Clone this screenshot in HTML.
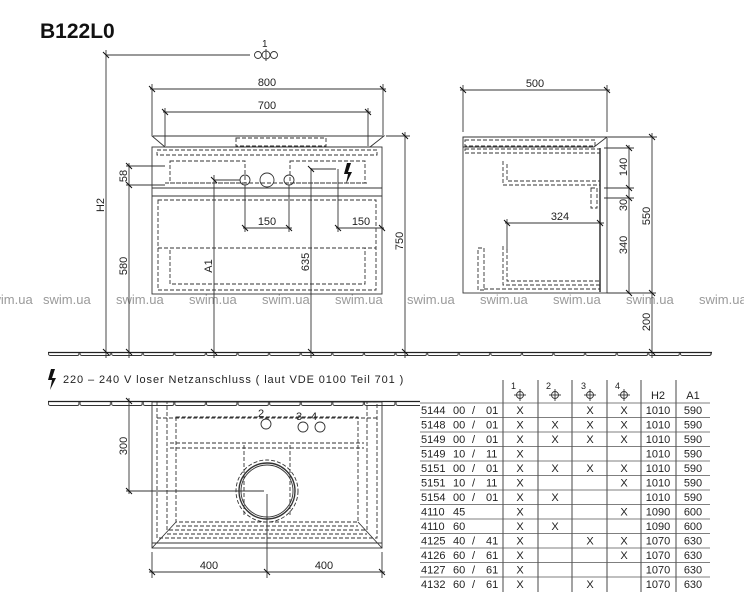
<!DOCTYPE html>
<html><head><meta charset="utf-8"><style>
html,body{margin:0;padding:0;background:#fff;}
svg{display:block;font-family:"Liberation Sans",sans-serif;}
.t{font-size:11px;fill:#222;}
.wm{font-size:13px;fill:#9a9a9a;}
</style></head><body>
<svg width="744" height="600" viewBox="0 0 744 600" xmlns="http://www.w3.org/2000/svg">
<defs>
<pattern id="tile" x="48" y="0" width="31.6" height="10" patternUnits="userSpaceOnUse">
<rect x="0.5" y="0.5" width="30.4" height="5" rx="1.5" fill="#fff" stroke="#333" stroke-width="0.9"/>
</pattern>
</defs>
<text x="40" y="38" font-size="21" font-weight="bold" fill="#111">B122L0</text>

<g class="wm">
<text x="-15" y="304">swim.ua</text><text x="43" y="304">swim.ua</text><text x="116" y="304">swim.ua</text>
<text x="189" y="304">swim.ua</text><text x="262" y="304">swim.ua</text><text x="335" y="304">swim.ua</text>
<text x="407" y="304">swim.ua</text><text x="480" y="304">swim.ua</text><text x="553" y="304">swim.ua</text>
<text x="626" y="304">swim.ua</text><text x="699" y="304">swim.ua</text>
</g>

<rect x="48" y="352" width="664" height="6" fill="url(#tile)"/>
<line x1="48" y1="352.5" x2="712" y2="352.5" stroke="#222" stroke-width="1.2"/>
<rect x="48" y="401" width="372" height="6" fill="url(#tile)"/>
<line x1="48" y1="401.5" x2="420" y2="401.5" stroke="#222" stroke-width="1.2"/>

<g stroke="#333" stroke-width="0.9" fill="none">
<polygon points="152,136 384,136 370,147 165,147"/>
<rect x="152" y="147" width="230" height="147"/>
<line x1="152" y1="196" x2="382" y2="196"/>
<line x1="152" y1="188" x2="382" y2="188"/>
<g stroke-dasharray="4,2">
<rect x="157" y="150" width="220" height="5"/>
<rect x="170" y="161" width="75" height="22"/>
<rect x="290" y="161" width="75" height="22"/>
<line x1="165" y1="183" x2="368" y2="183"/>
<rect x="158" y="200" width="218" height="90"/>
<line x1="158" y1="248" x2="376" y2="248"/>
<rect x="170" y="248" width="195" height="36"/>
<rect x="236" y="138" width="90" height="8"/>
</g>
<circle cx="245" cy="180" r="5"/><circle cx="267" cy="180" r="7"/><circle cx="289" cy="180" r="5"/>
<line x1="106" y1="55" x2="250" y2="55"/>
<line x1="106" y1="50" x2="106" y2="358"/>
<line x1="152" y1="84" x2="152" y2="135"/><line x1="383" y1="84" x2="383" y2="135"/>
<line x1="150" y1="89" x2="386" y2="89"/>
<line x1="165" y1="108" x2="165" y2="146"/><line x1="368" y1="108" x2="368" y2="146"/>
<line x1="163" y1="112" x2="371" y2="112"/>
<line x1="386" y1="136" x2="410" y2="136"/>
<line x1="405" y1="132" x2="405" y2="358"/>
<line x1="129" y1="163" x2="129" y2="358"/>
<line x1="126" y1="166" x2="165" y2="166"/>
<line x1="126" y1="185" x2="165" y2="185"/>
<line x1="214" y1="175" x2="214" y2="358"/>
<line x1="214" y1="180" x2="240" y2="180"/>
<line x1="311" y1="168" x2="311" y2="358"/>
<line x1="311" y1="169" x2="336" y2="169"/>
<line x1="245" y1="185" x2="245" y2="232"/><line x1="289" y1="185" x2="289" y2="232"/>
<line x1="243" y1="228" x2="292" y2="228"/>
<line x1="338" y1="169" x2="338" y2="232"/>
<line x1="336" y1="228" x2="384" y2="228"/>
<circle cx="266" cy="55" r="4"/><circle cx="258" cy="55" r="3.5"/><circle cx="274" cy="55" r="3.5"/>
<line x1="266" y1="49" x2="266" y2="61"/>

<rect x="463" y="137" width="144" height="156"/>
<polygon points="463,137 607,137 594,147 463,147"/>
<line x1="600" y1="148" x2="600" y2="292" stroke-width="1.5"/>
<g stroke-dasharray="4,2">
<rect x="465" y="140" width="130" height="6"/>
<rect x="465" y="149" width="135" height="4"/>
<polyline points="503,161 503,185 600,185"/>
<polyline points="507,164 507,181 600,181"/>
<rect x="591" y="188" width="6" height="20"/>
<polyline points="503,246 503,285 600,285"/>
<polyline points="507,249 507,281 600,281"/>
<rect x="478" y="248" width="6" height="42"/>
<line x1="484" y1="289" x2="600" y2="289"/>
</g>
<line x1="463" y1="85" x2="463" y2="132"/><line x1="607" y1="85" x2="607" y2="132"/>
<line x1="460" y1="90" x2="610" y2="90"/>
<line x1="608" y1="137" x2="657" y2="137"/>
<line x1="652" y1="133" x2="652" y2="358"/>
<line x1="604" y1="148" x2="634" y2="148"/>
<line x1="604" y1="188" x2="634" y2="188"/>
<line x1="604" y1="198" x2="634" y2="198"/>
<line x1="629" y1="145" x2="629" y2="294"/>
<line x1="607" y1="293" x2="656" y2="293"/>
<line x1="505" y1="223" x2="604" y2="223"/>
<line x1="507" y1="219" x2="507" y2="250"/>

<rect x="152" y="402" width="230" height="146"/>
<line x1="152" y1="543" x2="382" y2="543"/>
<g stroke-dasharray="4,2">
<rect x="157" y="402" width="220" height="136"/>
<rect x="167" y="402" width="200" height="128"/>
<rect x="176" y="417" width="182" height="105"/>
<line x1="157" y1="418" x2="377" y2="418"/>
<line x1="170" y1="443" x2="364" y2="443"/>
<line x1="170" y1="448" x2="364" y2="448"/>
<line x1="176" y1="526" x2="358" y2="526"/>
<line x1="167" y1="534" x2="367" y2="534"/>
<circle cx="267" cy="491" r="31"/>
<line x1="244" y1="445" x2="244" y2="516"/><line x1="290" y1="445" x2="290" y2="516"/>
</g>
<circle cx="267" cy="491" r="28" stroke-width="1.4"/>
<circle cx="267" cy="491" r="26"/>
<circle cx="266" cy="424" r="5"/><circle cx="303" cy="427" r="5"/><circle cx="320" cy="427" r="5"/>
<line x1="152" y1="548" x2="176" y2="522"/><line x1="382" y1="548" x2="358" y2="522"/>
<line x1="129" y1="398" x2="129" y2="494"/>
<line x1="126" y1="491" x2="264" y2="491"/>
<line x1="267" y1="494" x2="267" y2="578"/>
<line x1="152" y1="552" x2="152" y2="578"/><line x1="382" y1="552" x2="382" y2="578"/>
<line x1="149" y1="572" x2="385" y2="572"/>

<g stroke="#111" stroke-width="1">
<path d="M103,52 l6,6 M149,86 l6,6 M380,86 l6,6 M162,109 l6,6 M365,109 l6,6 M402,133 l6,6
M126,163 l6,6 M126,182 l6,6 M242,225 l6,6 M286,225 l6,6 M335,225 l6,6 M379,225 l6,6
M103,349 l6,6 M126,349 l6,6 M211,349 l6,6 M308,349 l6,6 M402,349 l6,6 M649,349 l6,6
M460,87 l6,6 M604,87 l6,6 M649,134 l6,6 M626,145 l6,6 M626,185 l6,6 M626,195 l6,6 M626,290 l6,6 M649,290 l6,6
M504,220 l6,6 M597,220 l6,6 M126,398 l6,6 M126,488 l6,6 M149,569 l6,6 M264,569 l6,6 M379,569 l6,6
M211,177 l6,6 M308,166 l6,6"/>
</g>

<line x1="503" y1="380" x2="503" y2="592"/><line x1="538" y1="380" x2="538" y2="592"/>
<line x1="572" y1="380" x2="572" y2="592"/><line x1="607" y1="380" x2="607" y2="592"/>
<line x1="641" y1="380" x2="641" y2="592"/><line x1="676" y1="380" x2="676" y2="592"/>
<g stroke="#555" stroke-width="0.8">
<line x1="420" y1="403" x2="710" y2="403"/><line x1="420" y1="417.5" x2="710" y2="417.5"/>
<line x1="420" y1="432" x2="710" y2="432"/><line x1="420" y1="446.5" x2="710" y2="446.5"/>
<line x1="420" y1="461" x2="710" y2="461"/><line x1="420" y1="475.5" x2="710" y2="475.5"/>
<line x1="420" y1="490" x2="710" y2="490"/><line x1="420" y1="504.5" x2="710" y2="504.5"/>
<line x1="420" y1="519" x2="710" y2="519"/><line x1="420" y1="533.5" x2="710" y2="533.5"/>
<line x1="420" y1="548" x2="710" y2="548"/><line x1="420" y1="562.5" x2="710" y2="562.5"/>
<line x1="420" y1="577" x2="710" y2="577"/>
</g>
<g>
<circle cx="520" cy="395" r="3.5"/><line x1="520" y1="389" x2="520" y2="401"/><line x1="514" y1="395" x2="526" y2="395"/>
<circle cx="555" cy="395" r="3.5"/><line x1="555" y1="389" x2="555" y2="401"/><line x1="549" y1="395" x2="561" y2="395"/>
<circle cx="590" cy="395" r="3.5"/><line x1="590" y1="389" x2="590" y2="401"/><line x1="584" y1="395" x2="596" y2="395"/>
<circle cx="624" cy="395" r="3.5"/><line x1="624" y1="389" x2="624" y2="401"/><line x1="618" y1="395" x2="630" y2="395"/>
</g>
</g>

<polygon points="51,369 55,369 52,378 56,378 50,390 52,380 48,380" fill="#111"/>
<polygon points="347,163 351,163 348,172 352,172 346,184 348,174 344,174" fill="#111"/>

<g class="t">
<text x="262" y="47" font-size="10">1</text>
<text x="267" y="86" text-anchor="middle">800</text>
<text x="267" y="109" text-anchor="middle">700</text>
<text x="267" y="225" text-anchor="middle">150</text>
<text x="361" y="225" text-anchor="middle">150</text>
<text transform="translate(104,205) rotate(-90)" text-anchor="middle">H2</text>
<text transform="translate(127,176) rotate(-90)" text-anchor="middle">58</text>
<text transform="translate(127,266) rotate(-90)" text-anchor="middle">580</text>
<text transform="translate(212,266) rotate(-90)" text-anchor="middle">A1</text>
<text transform="translate(309,262) rotate(-90)" text-anchor="middle">635</text>
<text transform="translate(403,241) rotate(-90)" text-anchor="middle">750</text>
<text x="535" y="87" text-anchor="middle">500</text>
<text x="560" y="220" text-anchor="middle">324</text>
<text transform="translate(627,167) rotate(-90)" text-anchor="middle">140</text>
<text transform="translate(627,205) rotate(-90)" text-anchor="middle">30</text>
<text transform="translate(627,245) rotate(-90)" text-anchor="middle">340</text>
<text transform="translate(650,216) rotate(-90)" text-anchor="middle">550</text>
<text transform="translate(650,322) rotate(-90)" text-anchor="middle">200</text>
<text x="63" y="383" letter-spacing="0.9">220 – 240 V loser Netzanschluss ( laut VDE 0100 Teil 701 )</text>
<text transform="translate(127,446) rotate(-90)" text-anchor="middle">300</text>
<text x="209" y="569" text-anchor="middle">400</text>
<text x="324" y="569" text-anchor="middle">400</text>
<text x="258" y="417">2</text><text x="296" y="420">3</text><text x="311" y="420">4</text>
<text x="511" y="389" font-size="9">1</text><text x="546" y="389" font-size="9">2</text>
<text x="581" y="389" font-size="9">3</text><text x="615" y="389" font-size="9">4</text>
<text x="658" y="399" text-anchor="middle">H2</text><text x="693" y="399" text-anchor="middle">A1</text>
</g>

<g class="t" font-size="10.5">
<text y="414"><tspan x="421">5144</tspan><tspan x="453">00</tspan><tspan x="472">/</tspan><tspan x="486">01</tspan></text>
<text y="428.5"><tspan x="421">5148</tspan><tspan x="453">00</tspan><tspan x="472">/</tspan><tspan x="486">01</tspan></text>
<text y="443"><tspan x="421">5149</tspan><tspan x="453">00</tspan><tspan x="472">/</tspan><tspan x="486">01</tspan></text>
<text y="457.5"><tspan x="421">5149</tspan><tspan x="453">10</tspan><tspan x="472">/</tspan><tspan x="486">11</tspan></text>
<text y="472"><tspan x="421">5151</tspan><tspan x="453">00</tspan><tspan x="472">/</tspan><tspan x="486">01</tspan></text>
<text y="486.5"><tspan x="421">5151</tspan><tspan x="453">10</tspan><tspan x="472">/</tspan><tspan x="486">11</tspan></text>
<text y="501"><tspan x="421">5154</tspan><tspan x="453">00</tspan><tspan x="472">/</tspan><tspan x="486">01</tspan></text>
<text y="515.5"><tspan x="421">4110</tspan><tspan x="453">45</tspan></text>
<text y="530"><tspan x="421">4110</tspan><tspan x="453">60</tspan></text>
<text y="544.5"><tspan x="421">4125</tspan><tspan x="453">40</tspan><tspan x="472">/</tspan><tspan x="486">41</tspan></text>
<text y="559"><tspan x="421">4126</tspan><tspan x="453">60</tspan><tspan x="472">/</tspan><tspan x="486">61</tspan></text>
<text y="573.5"><tspan x="421">4127</tspan><tspan x="453">60</tspan><tspan x="472">/</tspan><tspan x="486">61</tspan></text>
<text y="588"><tspan x="421">4132</tspan><tspan x="453">60</tspan><tspan x="472">/</tspan><tspan x="486">61</tspan></text>
<g text-anchor="middle">
<text x="520" y="414">X</text><text x="590" y="414">X</text><text x="624" y="414">X</text>
<text x="520" y="428.5">X</text><text x="555" y="428.5">X</text><text x="590" y="428.5">X</text><text x="624" y="428.5">X</text>
<text x="520" y="443">X</text><text x="555" y="443">X</text><text x="590" y="443">X</text><text x="624" y="443">X</text>
<text x="520" y="457.5">X</text>
<text x="520" y="472">X</text><text x="555" y="472">X</text><text x="590" y="472">X</text><text x="624" y="472">X</text>
<text x="520" y="486.5">X</text><text x="624" y="486.5">X</text>
<text x="520" y="501">X</text><text x="555" y="501">X</text>
<text x="520" y="515.5">X</text><text x="624" y="515.5">X</text>
<text x="520" y="530">X</text><text x="555" y="530">X</text>
<text x="520" y="544.5">X</text><text x="590" y="544.5">X</text><text x="624" y="544.5">X</text>
<text x="520" y="559">X</text><text x="624" y="559">X</text>
<text x="520" y="573.5">X</text>
<text x="520" y="588">X</text><text x="590" y="588">X</text>
</g>
<g text-anchor="middle">
<text x="658" y="414">1010</text><text x="693" y="414">590</text>
<text x="658" y="428.5">1010</text><text x="693" y="428.5">590</text>
<text x="658" y="443">1010</text><text x="693" y="443">590</text>
<text x="658" y="457.5">1010</text><text x="693" y="457.5">590</text>
<text x="658" y="472">1010</text><text x="693" y="472">590</text>
<text x="658" y="486.5">1010</text><text x="693" y="486.5">590</text>
<text x="658" y="501">1010</text><text x="693" y="501">590</text>
<text x="658" y="515.5">1090</text><text x="693" y="515.5">600</text>
<text x="658" y="530">1090</text><text x="693" y="530">600</text>
<text x="658" y="544.5">1070</text><text x="693" y="544.5">630</text>
<text x="658" y="559">1070</text><text x="693" y="559">630</text>
<text x="658" y="573.5">1070</text><text x="693" y="573.5">630</text>
<text x="658" y="588">1070</text><text x="693" y="588">630</text>
</g>
</g>
</svg>
</body></html>
